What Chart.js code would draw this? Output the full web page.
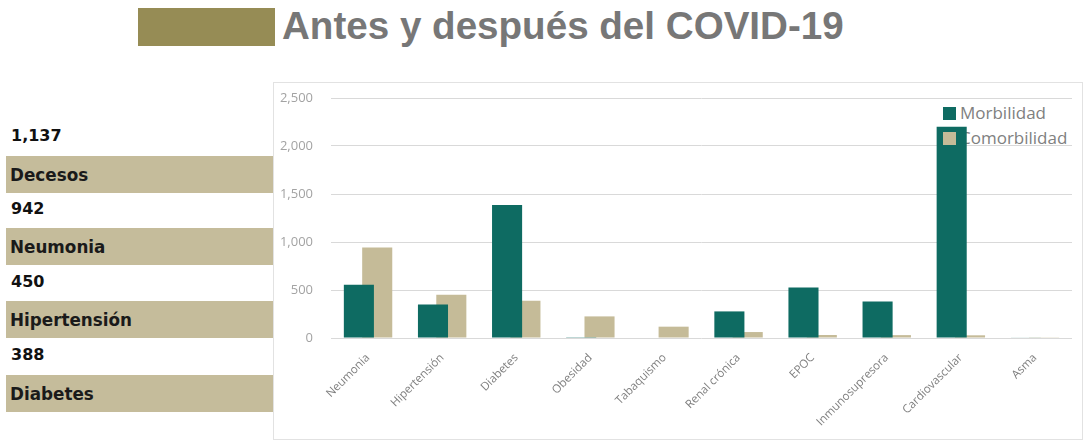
<!DOCTYPE html>
<html>
<head>
<meta charset="utf-8">
<script src="https://cdn.jsdelivr.net/npm/chart.js@4"></script>
<style>
  body { margin: 0; width: 1088px; height: 443px; background: #fff; position: relative; overflow: hidden; }
  .abs { position: absolute; }
  #titleBlock { left: 138px; top: 8px; width: 137px; height: 38px; background: #968c55; }
  #title { left: 282px; top: 4px; font: bold 38.6px "Liberation Sans", Arial, sans-serif; color: #777; white-space: nowrap; }
  .num { left: 11px; font: bold 16px "DejaVu Sans", sans-serif; color: #111; }
  .band { left: 6px; width: 267px; background: #c5bc9b; font: bold 16.8px "DejaVu Sans", sans-serif; color: #1a1a1a; box-sizing: border-box; padding-left: 4px; display: flex; align-items: center; }
  #frame { left: 273px; top: 82px; width: 810px; height: 358px; border: 1px solid #e2e2e2; box-sizing: border-box; }
  #chartBox { left: 274px; top: 83px; width: 809px; height: 356px; z-index: 2; }
  #legendText { z-index: 1; left: 960px; top: 100px; font: 17px "Open Sans", sans-serif; color: #808080; line-height: 25px; }
  .swatch { z-index: 3; width: 13px; height: 13px; left: 943px; }
</style>
</head>
<body>
<div id="titleBlock" class="abs"></div>
<div id="title" class="abs">Antes y después del COVID-19</div>

<div id="side"></div>

<div id="frame" class="abs"></div>
<div id="legendText" class="abs"></div>
<div id="chartBox" class="abs"><canvas id="chart"></canvas></div>
<div id="swatches"></div>

<script>
// chart data
const categories = ["Neumonia", "Hipertensión", "Diabetes", "Obesidad", "Tabaquismo", "Renal crónica", "EPOC", "Inmunosupresora", "Cardiovascular", "Asma"];
const morbilidad = [555, 350, 1385, 8, 0, 277, 527, 381, 2200, 6];
const comorbilidad = [942, 450, 388, 225, 118, 62, 31, 30, 28, 3];
const seriesNames = ["Morbilidad", "Comorbilidad"];
const seriesColors = ["#0e6b62", "#c5bb98"];
const yTicks = [0, 500, 1000, 1500, 2000, 2500];

// left side summary
const sideValues = ["1,137", "942", "450", "388"];
const sideLabels = ["Decesos", "Neumonia", "Hipertensión", "Diabetes"];

const side = document.getElementById("side");
const numTops = [126, 199, 272, 345];
const bandTops = [156, 228, 301, 375];
sideValues.forEach((v, i) => {
  const n = document.createElement("div");
  n.className = "abs num";
  n.style.top = numTops[i] + "px";
  n.textContent = v;
  side.appendChild(n);

  const b = document.createElement("div");
  b.className = "abs band";
  b.style.top = bandTops[i] + "px";
  b.style.height = "37px";
  b.textContent = sideLabels[i];
  side.appendChild(b);
});

// legend: text sits under the canvas, swatches on top (like the original)
const legendText = document.getElementById("legendText");
const swatches = document.getElementById("swatches");
seriesNames.forEach((name, i) => {
  const t = document.createElement("div");
  t.textContent = name;
  legendText.appendChild(t);

  const s = document.createElement("div");
  s.className = "abs swatch";
  s.style.top = (107 + i * 25) + "px";
  s.style.background = seriesColors[i];
  swatches.appendChild(s);
});

new Chart(document.getElementById("chart"), {
  type: "bar",
  data: {
    labels: categories,
    datasets: [
      { label: seriesNames[0], data: morbilidad, backgroundColor: seriesColors[0] },
      { label: seriesNames[1], data: comorbilidad, backgroundColor: seriesColors[1] },
    ],
  },
  options: {
    responsive: true,
    maintainAspectRatio: false,
    animation: false,
    // bars overlap a bit, like the excel chart
    categoryPercentage: 0.495,
    barPercentage: 1.64,
    layout: { padding: { top: 15, right: 11, left: 0, bottom: 0 } },
    plugins: {
      legend: { display: false },
      tooltip: { enabled: false },
    },
    scales: {
      x: {
        grid: { display: false, drawTicks: false },
        border: { display: false },
        ticks: {
          minRotation: 45,
          maxRotation: 45,
          padding: 13,
          color: "#7f7f7f",
          font: { family: "Open Sans", size: 11.5 },
        },
        afterFit: (scale) => { scale.height = 101; },
      },
      y: {
        min: 0,
        max: 2500,
        afterBuildTicks: (scale) => { scale.ticks = yTicks.map((v) => ({ value: v })); },
        grid: { color: "#d9d9d9", drawTicks: false },
        border: { display: false },
        ticks: {
          padding: 18,
          color: "#a3a3a3",
          font: { family: "Open Sans", size: 13 },
          callback: (v) => v.toLocaleString("en-US"),
        },
        afterFit: (scale) => {
          scale.width = 57;
          scale.paddingTop = 0;
          scale.paddingBottom = 0;
        },
      },
    },
  },
});
</script>
</body>
</html>
